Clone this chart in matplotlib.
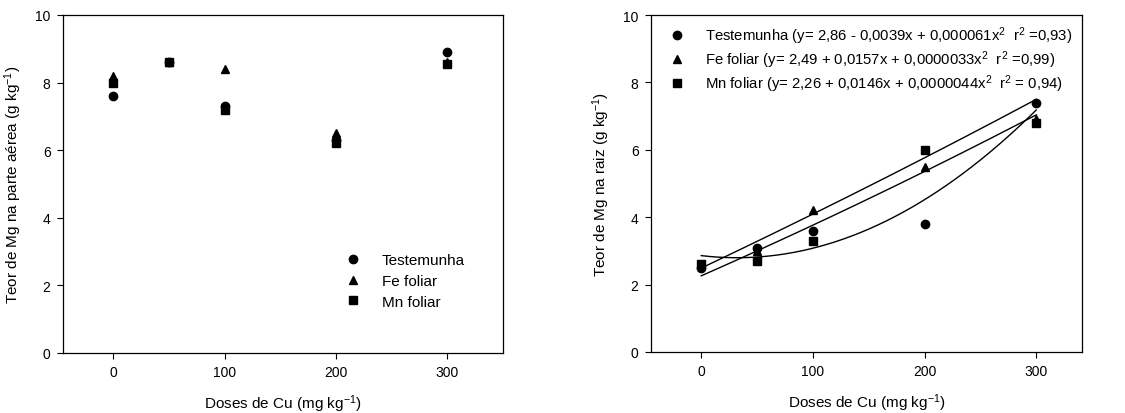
import numpy as np
import matplotlib
matplotlib.use("Agg")
import matplotlib.pyplot as plt

plt.rcParams['font.family'] = ['Liberation Sans', 'DejaVu Sans']
plt.rcParams['mathtext.fontset'] = 'custom'
plt.rcParams['mathtext.rm'] = 'Liberation Sans'
plt.rcParams['mathtext.it'] = 'Liberation Sans'
plt.rcParams['mathtext.default'] = 'regular'

doses = [0, 50, 100, 200, 300]
series = ['Testemunha', 'Fe foliar', 'Mn foliar']
markers = ['o', '^', 's']

# Mg in shoots (g/kg)
aerea_test = [7.6, 8.6, 7.3, 6.3, 8.9]
aerea_fe = [8.2, 8.6, 8.4, 6.5, 8.6]
aerea_mn = [8.0, 8.6, 7.2, 6.2, 8.55]

# Mg in roots (g/kg)
raiz_test = [2.5, 3.1, 3.6, 3.8, 7.4]
raiz_fe = [2.6, 3.0, 4.2, 5.5, 6.9]
raiz_mn = [2.6, 2.7, 3.3, 6.0, 6.8]

# quadratic fits: b0, b1, b2
coef_test = [2.86, -0.0039, 0.000061]
coef_fe = [2.49, 0.0157, 0.0000033]
coef_mn = [2.26, 0.0146, 0.0000044]
fit_labels = [
    r'Testemunha (y= 2,86 - 0,0039x + 0,000061x$^2$  r$^2$ =0,93)',
    r'Fe foliar (y= 2,49 + 0,0157x + 0,0000033x$^2$  r$^2$ =0,99)',
    r'Mn foliar (y= 2,26 + 0,0146x + 0,0000044x$^2$  r$^2$ = 0,94)',
]

fig = plt.figure(figsize=(11.25, 4.14), dpi=100)
ax1 = fig.add_axes([63/1125, 60/414, 440/1125, 338/414])
ax2 = fig.add_axes([651/1125, 61/414, 431/1125, 337/414])


def style(ax, xmax):
    ax.set_xlim(-45, xmax)
    ax.set_ylim(0, 10)
    ax.set_xticks([0, 100, 200, 300])
    ax.set_yticks([0, 2, 4, 6, 8, 10])
    ax.tick_params(direction='out', length=4, width=0.8, labelsize=10, pad=5)
    for s in ax.spines.values():
        s.set_linewidth(0.9)
    ax.set_xlabel('Doses de Cu (mg kg$^{-1}$)', fontsize=11, labelpad=9)


for vals, m, lab in zip([aerea_test, aerea_fe, aerea_mn], markers, series):
    ax1.plot(doses, vals, linestyle='none', marker=m, color='black',
             markersize=6, label=lab)
style(ax1, 350)
ax1.set_ylabel('Teor de Mg na parte aérea (g kg$^{-1}$)', fontsize=11, labelpad=8)
ax1.legend(loc='lower right', bbox_to_anchor=(0.945, 0.09), frameon=False,
           fontsize=11, handletextpad=0.9, labelspacing=0.45)

xs = np.linspace(0, 300, 200)
for vals, m, c, lab in zip([raiz_test, raiz_fe, raiz_mn], markers,
                           [coef_test, coef_fe, coef_mn], fit_labels):
    ax2.plot(doses, vals, linestyle='none', marker=m, color='black',
             markersize=6, label=lab)
    ax2.plot(xs, c[0] + c[1] * xs + c[2] * xs ** 2, color='black', linewidth=1)
style(ax2, 341)
ax2.set_ylabel('Teor de Mg na raiz (g kg$^{-1}$)', fontsize=11, labelpad=8)
h, l = ax2.get_legend_handles_labels()
ax2.legend(h, l, loc='upper left', bbox_to_anchor=(-0.005, 1.012), frameon=False,
           fontsize=10.7, handletextpad=0.9, labelspacing=0.18)

fig.savefig('out.png', dpi=100)
